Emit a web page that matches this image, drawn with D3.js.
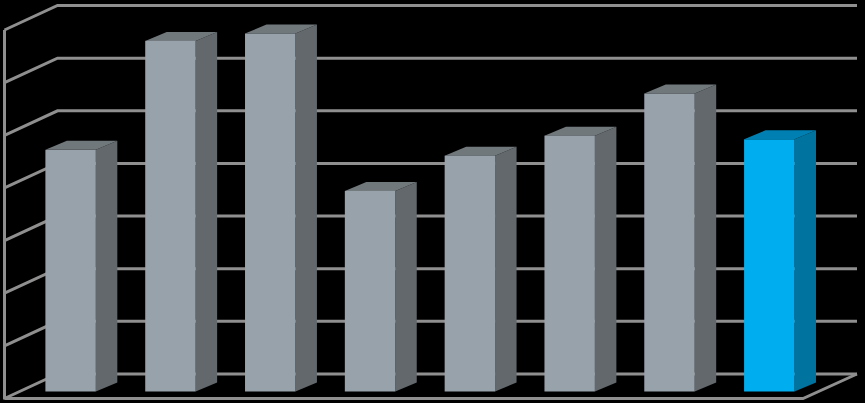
<!DOCTYPE html>
<html>
<head>
<meta charset="utf-8">
<style>
html, body { margin: 0; padding: 0; background: #000; overflow: hidden; }
svg { display: block; }
</style>
<script src="https://cdn.jsdelivr.net/npm/d3@7"></script>
</head>
<body>
<div id="chart"></div>
<script>
var categories = ["1", "2", "3", "4", "5", "6", "7", "8"];
var values = [4.59, 6.66, 6.80, 3.81, 4.48, 4.86, 5.66, 4.79];
var highlighted = ["8"];
var yTicks = [0, 1, 2, 3, 4, 5, 6, 7];

var svg = d3.select("#chart").append("svg")
    .attr("width", 865)
    .attr("height", 403);

// front edge of the floor, the back wall sits wallDx/wallDy behind it
var wallDx = 53, wallDy = 24.5;
// bars stand a little way in from the front edge
var barDx = 16.2, barDy = 7;
// side and top faces of a bar
var depthX = 21.5, depthY = 9;

var x = d3.scaleBand()
    .domain(categories)
    .range([4.5, 803])
    .paddingInner(0.495)
    .paddingOuter(0.2475);

var y = d3.scaleLinear()
    .domain([0, 7])
    .range([398.5, 30]);

var gridColor = "#8f8f8f";

var grid = svg.append("g")
    .attr("fill", "none")
    .attr("stroke", gridColor)
    .attr("stroke-width", 3);

// back wall and side wall lines
grid.selectAll("path.grid")
    .data(yTicks)
    .enter().append("path")
    .attr("class", "grid")
    .attr("d", function(d) {
        return "M" + x.range()[0] + "," + y(d) +
            "L" + (x.range()[0] + wallDx) + "," + (y(d) - wallDy) +
            "H857";
    });

// left axis line
grid.append("path")
    .attr("d", "M" + x.range()[0] + "," + y(7) + "V" + (y(0) + 1));

// floor front edge and right edge
grid.append("path")
    .attr("d", "M" + x.range()[0] + "," + y(0) +
        "H" + x.range()[1] +
        "L857," + (y(0) - wallDy));

var bars = svg.selectAll(".bar")
    .data(categories.map(function(c, i) { return {cat: c, value: values[i]}; }))
    .enter().append("g")
    .attr("class", "bar")
    .attr("transform", function(d) {
        return "translate(" + (x(d.cat) + barDx) + "," + (-barDy) + ")";
    });

function isBlue(d) { return highlighted.indexOf(d.cat) >= 0; }

// side face
bars.append("path")
    .attr("fill", function(d) { return isBlue(d) ? "#00739e" : "#62686c"; })
    .attr("d", function(d) {
        var w = x.bandwidth();
        return "M" + w + "," + y(d.value) +
            "L" + (w + depthX) + "," + (y(d.value) - depthY) +
            "V" + (y(0) - depthY) +
            "L" + w + "," + y(0) + "Z";
    });

// top face
bars.append("path")
    .attr("fill", function(d) { return isBlue(d) ? "#0080b2" : "#71787c"; })
    .attr("d", function(d) {
        var w = x.bandwidth();
        return "M0," + y(d.value) +
            "L" + depthX + "," + (y(d.value) - depthY) +
            "H" + (w + depthX) +
            "L" + w + "," + y(d.value) + "Z";
    });

// front face
bars.append("rect")
    .attr("x", 0)
    .attr("y", function(d) { return y(d.value); })
    .attr("width", x.bandwidth())
    .attr("height", function(d) { return y(0) - y(d.value); })
    .attr("fill", function(d) { return isBlue(d) ? "#00aeef" : "#98a2ab"; });
</script>
</body>
</html>
